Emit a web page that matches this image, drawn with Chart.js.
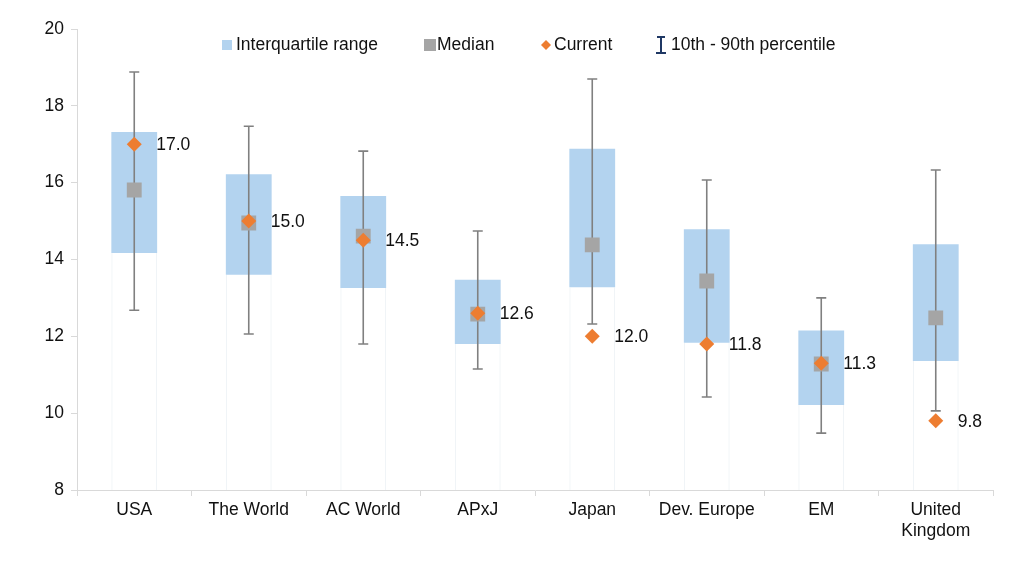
<!DOCTYPE html>
<html>
<head>
<meta charset="utf-8">
<script src="https://cdn.jsdelivr.net/npm/chart.js@4.4.0/dist/chart.umd.min.js"></script>
<style>
html, body { margin: 0; padding: 0; background: #fff; }
#wrap { width: 1024px; height: 564px; }
</style>
</head>
<body>
<div id="wrap"><canvas id="chart"></canvas></div>
<script>
var categories = ['USA', 'The World', 'AC World', 'APxJ', 'Japan', 'Dev. Europe', 'EM', ['United', 'Kingdom']];
var q1      = [14.17, 13.60, 13.26, 11.80, 13.28, 11.83, 10.21, 11.36];
var q3      = [17.32, 16.22, 15.65, 13.47, 16.88, 14.79, 12.15, 14.40];
var median  = [15.81, 14.95, 14.61, 12.58, 14.38, 13.44, 11.28, 12.48];
var current = [17.0, 15.0, 14.5, 12.6, 12.0, 11.8, 11.3, 9.8];
var p10     = [12.68, 12.06, 11.80, 11.15, 12.32, 10.42, 9.48, 10.06];
var p90     = [18.88, 17.47, 16.82, 14.74, 18.70, 16.07, 13.00, 16.33];
var yMin = 8, yMax = 20, yStep = 2;
var legendLabels = ['Interquartile range', 'Median', 'Current', '10th - 90th percentile'];

var FONT = '"Liberation Sans", Arial, sans-serif';
var TEXT = '#111';
var BLUE = '#b3d3ef', GREY = '#a5a5a5', ORANGE = '#ed7d31', WHISKER = '#808080';

// floating bars
var iqrData = q1.map(function (v, i) { return [v, q3[i]]; });
var lowData = q1.map(function (v) { return [yMin, v]; });

// whiskers drawn right after the IQR boxes
var whiskers = {
    id: 'whiskers',
    afterDatasetDraw: function (chart, args) {
        if (args.index !== 0) return;
        var ctx = chart.ctx, xs = chart.scales.x, ys = chart.scales.y;
        ctx.save();
        ctx.strokeStyle = WHISKER;
        ctx.lineWidth = 1.6;
        p10.forEach(function (lo, i) {
            var cx = xs.getPixelForValue(i);
            var top = ys.getPixelForValue(p90[i]);
            var bot = ys.getPixelForValue(lo);
            ctx.beginPath();
            ctx.moveTo(cx, top); ctx.lineTo(cx, bot);
            ctx.moveTo(cx - 5, top); ctx.lineTo(cx + 5, top);
            ctx.moveTo(cx - 5, bot); ctx.lineTo(cx + 5, bot);
            ctx.stroke();
        });
        ctx.restore();
    }
};

// value labels next to the current points
var currentLabels = {
    id: 'currentLabels',
    afterDatasetsDraw: function (chart) {
        var ctx = chart.ctx, meta = chart.getDatasetMeta(3);
        ctx.save();
        ctx.font = '17.5px ' + FONT;
        ctx.fillStyle = TEXT;
        ctx.textAlign = 'left';
        ctx.textBaseline = 'middle';
        meta.data.forEach(function (pt, i) {
            ctx.fillText(current[i].toFixed(1), pt.x + 22, pt.y + 1);
        });
        ctx.restore();
    }
};

// legend sits inside the plot, Excel style
var legendBox = {
    id: 'legendBox',
    afterDraw: function (chart) {
        var ctx = chart.ctx, y = 45;
        ctx.save();
        ctx.font = '17.5px ' + FONT;
        ctx.textBaseline = 'middle';
        ctx.textAlign = 'left';

        ctx.fillStyle = BLUE;
        ctx.fillRect(222, y - 5, 10, 10);
        ctx.fillStyle = TEXT;
        ctx.fillText(legendLabels[0], 236, y);

        ctx.fillStyle = GREY;
        ctx.fillRect(424, y - 6, 12, 12);
        ctx.fillStyle = TEXT;
        ctx.fillText(legendLabels[1], 437, y);

        ctx.fillStyle = ORANGE;
        ctx.beginPath();
        ctx.moveTo(546, y - 5); ctx.lineTo(551, y); ctx.lineTo(546, y + 5); ctx.lineTo(541, y);
        ctx.closePath(); ctx.fill();
        ctx.fillStyle = TEXT;
        ctx.fillText(legendLabels[2], 554, y);

        ctx.strokeStyle = '#1f3864';
        ctx.lineWidth = 2;
        ctx.beginPath();
        ctx.moveTo(657, y - 8); ctx.lineTo(665, y - 8);
        ctx.moveTo(661, y - 8); ctx.lineTo(661, y + 8);
        ctx.moveTo(656, y + 8); ctx.lineTo(666, y + 8);
        ctx.stroke();
        ctx.fillText(legendLabels[3], 671, y);
        ctx.restore();
    }
};

new Chart(document.getElementById('chart'), {
    type: 'bar',
    data: {
        labels: categories,
        datasets: [
            {
                label: legendLabels[0],
                data: iqrData,
                backgroundColor: BLUE,
                borderWidth: 0,
                grouped: false,
                barPercentage: 0.4,
                categoryPercentage: 1,
                order: 3
            },
            {
                label: '',
                data: lowData,
                backgroundColor: 'rgba(0,0,0,0)',
                borderColor: '#eef2f6',
                borderWidth: { left: 1, right: 1, top: 0, bottom: 0 },
                borderSkipped: false,
                grouped: false,
                barPercentage: 0.4,
                categoryPercentage: 1,
                order: 4
            },
            {
                type: 'line',
                label: legendLabels[1],
                data: median,
                showLine: false,
                pointStyle: 'rect',
                pointRadius: 10.5,
                pointBackgroundColor: GREY,
                pointBorderWidth: 0,
                order: 2
            },
            {
                type: 'line',
                label: legendLabels[2],
                data: current,
                showLine: false,
                pointStyle: 'rectRot',
                pointRadius: 7.5,
                pointBackgroundColor: ORANGE,
                pointBorderWidth: 0,
                order: 1
            }
        ]
    },
    options: {
        responsive: true,
        maintainAspectRatio: false,
        animation: false,
        layout: { padding: { left: 0, right: 31, top: 29, bottom: 0 } },
        plugins: {
            legend: { display: false },
            tooltip: { enabled: false }
        },
        scales: {
            x: {
                grid: { drawOnChartArea: false, drawTicks: true, tickLength: 6, color: '#d9d9d9', offset: true },
                border: { color: '#d9d9d9', width: 1 },
                ticks: { font: { family: FONT, size: 17.5 }, color: TEXT, padding: 4, maxRotation: 0 },
                afterFit: function (scale) { scale.height = 74; }
            },
            y: {
                min: yMin,
                max: yMax,
                grid: { drawOnChartArea: false, drawTicks: true, tickLength: 6, color: '#d9d9d9' },
                border: { color: '#d9d9d9', width: 1 },
                ticks: { stepSize: yStep, font: { family: FONT, size: 17.5 }, color: TEXT, padding: 7 },
                afterFit: function (scale) { scale.width = 77; }
            }
        }
    },
    plugins: [whiskers, currentLabels, legendBox]
});
</script>
</body>
</html>
